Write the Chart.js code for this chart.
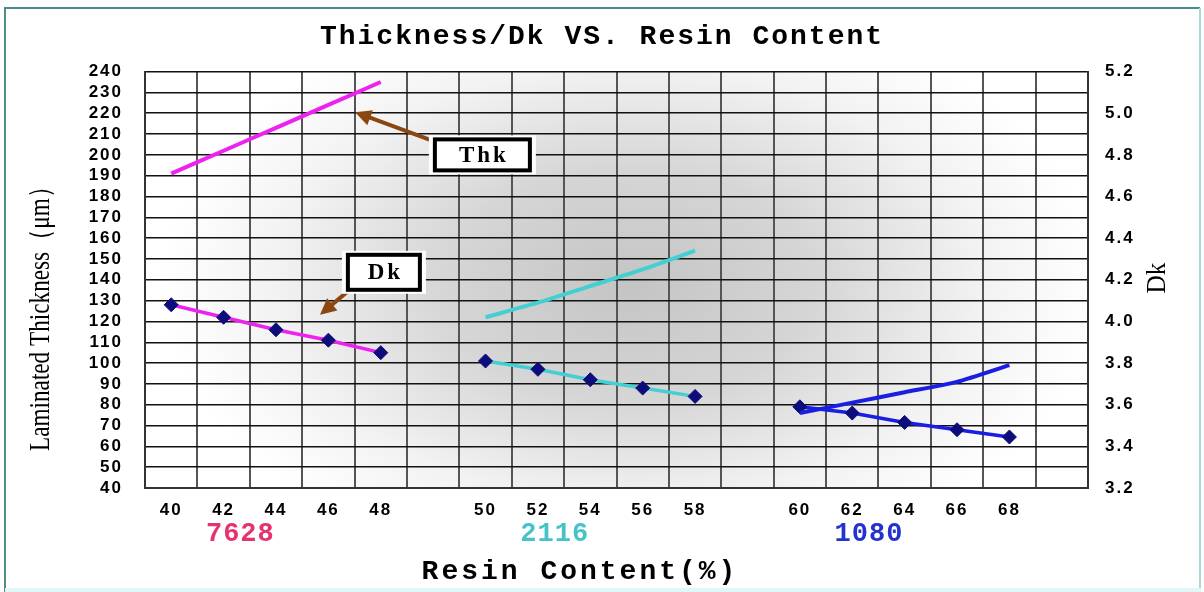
<!DOCTYPE html>
<html>
<head>
<meta charset="utf-8">
<script src="https://cdn.jsdelivr.net/npm/chart.js@4"></script>
<style>
  html, body { margin: 0; padding: 0; background: #fff; }
  #wrap { width: 1204px; height: 592px; }
</style>
</head>
<body>
<div id="wrap"><canvas id="resinChart" width="1204" height="592"></canvas></div>
<script>
// x categories (blank columns separate the glass styles)
const categories = ["40", "42", "44", "46", "48", "", "50", "52", "54", "56", "58", "", "60", "62", "64", "66", "68", ""];
const thkTicks = [40, 240, 10];
const dkTicks = [3.2, 5.2, 0.2];

const grades = ["7628", "2116", "1080"];
const resin7628 = ["40", "42", "44", "46", "48"];
const resin2116 = ["50", "52", "54", "56", "58"];
const resin1080 = ["60", "62", "64", "66", "68"];

// laminated thickness (um)
const thk7628 = [191, 202, 213, 224, 235];
const thk2116 = [122, 129, 137, 145, 154];
const thk1080 = [76, 81, 86, 91, 99];

// Dk
const dk7628 = [4.08, 4.02, 3.96, 3.91, 3.85];
const dk2116 = [3.81, 3.77, 3.72, 3.68, 3.64];
const dk1080 = [3.59, 3.56, 3.515, 3.48, 3.445];

const lineColors = ["#ee22ee", "#44cfd2", "#1a1ee0"];
const labelColors = ["#e6336e", "#45c3c9", "#2233d0"];
const markerColor = "#0c0c7a";

const toPoints = (xs, ys) => xs.map((x, i) => ({ x: x, y: ys[i] }));

function thkSet(label, xs, ys, color) {
  return {
    label: label,
    data: toPoints(xs, ys),
    yAxisID: "y",
    borderColor: color,
    borderWidth: 4,
    pointRadius: 0,
    tension: 0.2,
  };
}

function dkSet(label, xs, ys, color) {
  return {
    label: label,
    data: toPoints(xs, ys),
    yAxisID: "y1",
    borderColor: color,
    borderWidth: 3.5,
    pointStyle: "rectRot",
    pointRadius: 7,
    pointBackgroundColor: markerColor,
    pointBorderColor: markerColor,
    pointBorderWidth: 1,
    tension: 0,
  };
}

// callouts, in data units (x = category index, y = thickness)
const callouts = [
  { text: "Thk", box: [5.94, 200], w: 95, h: 31, tail: [5.07, 206], head: [3.51, 220.5] },
  { text: "Dk", box: [4.06, 143.6], w: 72, h: 35, tail: [3.47, 136.5], head: [2.84, 123.2] },
];

const decor = {
  id: "decor",
  beforeDraw(chart) {
    const { ctx, chartArea: a } = chart;
    ctx.save();
    ctx.fillStyle = "#fff";
    ctx.fillRect(0, 0, chart.width, chart.height);

    // outer frame
    ctx.lineWidth = 2;
    ctx.strokeStyle = "#4e8c8c";
    ctx.beginPath();
    ctx.moveTo(5, 592);
    ctx.lineTo(5, 8);
    ctx.lineTo(1200, 8);
    ctx.stroke();
    ctx.strokeStyle = "#a8dada";
    ctx.beginPath();
    ctx.moveTo(1200, 8);
    ctx.lineTo(1200, 590);
    ctx.stroke();
    ctx.fillStyle = "#dff7f7";
    ctx.fillRect(5, 588, 1196, 4);

    // grey glow in the plot
    const cx = 630, cy = 285, rx = 470, ry = 290;
    ctx.beginPath();
    ctx.rect(a.left, a.top, a.right - a.left, a.bottom - a.top);
    ctx.clip();
    ctx.translate(cx, cy);
    ctx.scale(1, ry / rx);
    const g = ctx.createRadialGradient(0, 0, 0, 0, 0, rx);
    g.addColorStop(0, "#c4c4c4");
    g.addColorStop(0.4, "#d6d6d6");
    g.addColorStop(0.75, "#f2f2f2");
    g.addColorStop(1, "#ffffff");
    ctx.fillStyle = g;
    ctx.fillRect(-rx * 1.5, -rx * 1.5, rx * 3, rx * 3);
    ctx.restore();
    ctx.letterSpacing = "2px";
  },
  afterDraw(chart) {
    const { ctx } = chart;
    const xs = chart.scales.x, ys = chart.scales.y;
    ctx.save();

    // grade labels under the ticks
    ctx.font = "bold 27px 'Liberation Mono'";
    ctx.textAlign = "center";
    ctx.textBaseline = "middle";
    ctx.letterSpacing = "1px";
    const firstIdx = [1, 7, 13];
    grades.forEach((gname, i) => {
      ctx.fillStyle = labelColors[i];
      ctx.fillText(gname, xs.getPixelForValue(firstIdx[i] + 0.32), 534);
    });

    // x axis title
    ctx.fillStyle = "#000";
    ctx.font = "bold 28px 'Liberation Mono'";
    ctx.letterSpacing = "3px";
    ctx.fillText("Resin Content(%)", 580, 572);
    ctx.letterSpacing = "0px";

    // left axis title
    ctx.save();
    ctx.translate(41, 313);
    ctx.rotate(-Math.PI / 2);
    ctx.scale(0.8, 1);
    ctx.font = "29px 'Liberation Serif'";
    ctx.fillText("Laminated Thickness（μm）", 0, 0);
    ctx.restore();

    // right axis title
    ctx.save();
    ctx.translate(1158, 278);
    ctx.rotate(-Math.PI / 2);
    ctx.scale(0.9, 1);
    ctx.font = "28px 'Liberation Serif'";
    ctx.fillText("Dk", 0, 0);
    ctx.restore();

    // callouts with arrows
    callouts.forEach((c) => {
      const hx = xs.getPixelForValue(c.head[0]), hy = ys.getPixelForValue(c.head[1]);
      const tx = xs.getPixelForValue(c.tail[0]), ty = ys.getPixelForValue(c.tail[1]);
      const ang = Math.atan2(hy - ty, hx - tx);
      ctx.strokeStyle = "#8a4712";
      ctx.fillStyle = "#8a4712";
      ctx.lineWidth = 4;
      ctx.beginPath();
      ctx.moveTo(tx, ty);
      ctx.lineTo(hx - 8 * Math.cos(ang), hy - 8 * Math.sin(ang));
      ctx.stroke();
      ctx.beginPath();
      ctx.moveTo(hx, hy);
      ctx.lineTo(hx - 16 * Math.cos(ang) + 8 * Math.sin(ang), hy - 16 * Math.sin(ang) - 8 * Math.cos(ang));
      ctx.lineTo(hx - 16 * Math.cos(ang) - 8 * Math.sin(ang), hy - 16 * Math.sin(ang) + 8 * Math.cos(ang));
      ctx.closePath();
      ctx.fill();

      const bx = xs.getPixelForValue(c.box[0]), by = ys.getPixelForValue(c.box[1]);
      ctx.fillStyle = "#fff";
      ctx.fillRect(bx - c.w / 2 - 6, by - c.h / 2 - 4, c.w + 12, c.h + 8);
      ctx.strokeStyle = "#000";
      ctx.lineWidth = 4;
      ctx.strokeRect(bx - c.w / 2, by - c.h / 2, c.w, c.h);
      ctx.fillStyle = "#000";
      ctx.font = "bold 23px 'Liberation Serif'";
      ctx.letterSpacing = "3px";
      ctx.fillText(c.text, bx + 1.5, by + 1);
      ctx.letterSpacing = "0px";
    });

    ctx.restore();
  },
};

const tickFont = { family: "Liberation Sans", size: 17, weight: "bold" };

new Chart(document.getElementById("resinChart"), {
  type: "line",
  data: {
    labels: categories,
    datasets: [
      thkSet("Thk 7628", resin7628, thk7628, lineColors[0]),
      thkSet("Thk 2116", resin2116, thk2116, lineColors[1]),
      thkSet("Thk 1080", resin1080, thk1080, lineColors[2]),
      dkSet("Dk 7628", resin7628, dk7628, lineColors[0]),
      dkSet("Dk 2116", resin2116, dk2116, lineColors[1]),
      dkSet("Dk 1080", resin1080, dk1080, lineColors[2]),
    ],
  },
  options: {
    responsive: false,
    animation: false,
    layout: { padding: { top: 8, left: 8, right: 8, bottom: 0 } },
    plugins: {
      legend: { display: false },
      tooltip: { enabled: false },
      title: {
        display: true,
        text: "Thickness/Dk VS. Resin Content",
        color: "#000",
        font: { family: "Liberation Mono", size: 28, weight: "bold" },
        padding: { top: 12, bottom: 18 },
      },
    },
    scales: {
      x: {
        type: "category",
        offset: true,
        grid: { offset: true, color: "#555", lineWidth: 2, drawTicks: false },
        border: { display: true, color: "#333", width: 2 },
        ticks: { color: "#000", font: tickFont, padding: 12, autoSkip: false, maxRotation: 0 },
        afterFit: (s) => { s.height = 104; },
      },
      y: {
        position: "left",
        min: thkTicks[0],
        max: thkTicks[1],
        ticks: { stepSize: thkTicks[2], autoSkip: false, color: "#000", font: tickFont, padding: 22 },
        grid: { color: "#111", lineWidth: 1.5, drawTicks: false },
        border: { display: true, color: "#333", width: 2 },
        afterFit: (s) => { s.width = 137; },
      },
      y1: {
        position: "right",
        min: dkTicks[0],
        max: dkTicks[1],
        ticks: {
          stepSize: dkTicks[2],
          autoSkip: false,
          color: "#000",
          font: tickFont,
          padding: 17,
          callback: (v) => Number(v).toFixed(1),
        },
        grid: { display: false, drawTicks: false },
        border: { display: true, color: "#333", width: 2 },
        afterFit: (s) => { s.width = 108; },
      },
    },
  },
  plugins: [decor],
});
</script>
</body>
</html>
